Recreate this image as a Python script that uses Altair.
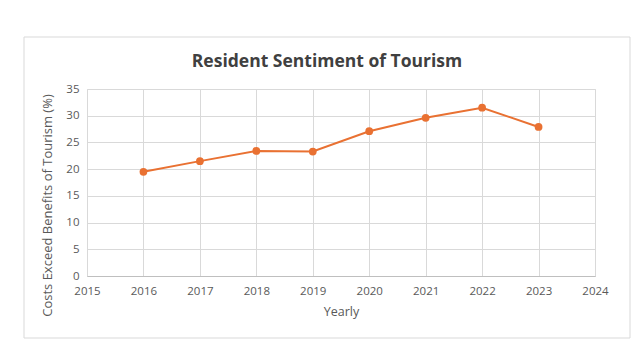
import altair as alt
import pandas as pd

years = [2016, 2017, 2018, 2019, 2020, 2021, 2022, 2023]
values = [19.5, 21.5, 23.4, 23.3, 27.1, 29.6, 31.5, 27.9]
x_ticks = [2015, 2016, 2017, 2018, 2019, 2020, 2021, 2022, 2023, 2024]
y_ticks = [0, 5, 10, 15, 20, 25, 30, 35]
title_text = "Resident Sentiment of Tourism"

df = pd.DataFrame({"year": years, "value": values})

FONT = "Open Sans"
ORANGE = "#E97132"

base = alt.Chart(df)

x_enc = alt.X(
    "year:Q",
    scale=alt.Scale(domain=[2015, 2024], nice=False),
    axis=alt.Axis(
        values=x_ticks, format="d", title="Yearly", grid=True,
        gridColor="#d9d9d9", domainColor="#bfbfbf", ticks=False, labelFlush=False,
        labelPadding=9, labelFontSize=11.5, labelColor="#595959", labelFont=FONT,
        titleFont=FONT, titleFontSize=12.5, titleColor="#595959", titleFontWeight="normal",
        titlePadding=9,
    ),
)
y_enc = alt.Y(
    "value:Q",
    scale=alt.Scale(domain=[0, 35], nice=False),
    axis=alt.Axis(
        values=y_ticks, title="Costs Exceed Benefits of Tourism (%)", grid=True,
        gridColor="#d9d9d9", domain=False, ticks=False, labelOverlap=False, labelFlush=False,
        labelPadding=8, labelFontSize=11.5, labelColor="#595959", labelFont=FONT,
        titleFont=FONT, titleFontSize=13, titleColor="#595959", titleFontWeight="normal",
        titleY=116, titleX=-33,
    ),
)

card = alt.Chart(pd.DataFrame({"a": [0]})).mark_rect(
    fill=None, stroke="#d9d9d9", strokeWidth=1
).encode(x=alt.value(-63), x2=alt.value(543), y=alt.value(-52), y2=alt.value(249))

title = alt.Chart(pd.DataFrame({"t": [title_text]})).mark_text(
    font=FONT, fontSize=17.5, fontWeight="bold", color="#404040", align="center",
    baseline="alphabetic",
).encode(text="t:N", x=alt.value(240), y=alt.value(-22))

line = base.mark_line(color=ORANGE, strokeWidth=2).encode(x=x_enc, y=y_enc)
points = base.mark_circle(color=ORANGE, size=60, opacity=1).encode(x=x_enc, y=y_enc)

chart = alt.layer(card, title, line, points).properties(
    width=508,
    height=187,
    autosize=alt.AutoSizeParams(type="none"),
    padding={"left": 79, "top": 81, "right": 36, "bottom": 64},
).configure_view(stroke="#d9d9d9").configure(background="white")

chart.save("out.html", embed_options={"renderer": "svg", "actions": False})
